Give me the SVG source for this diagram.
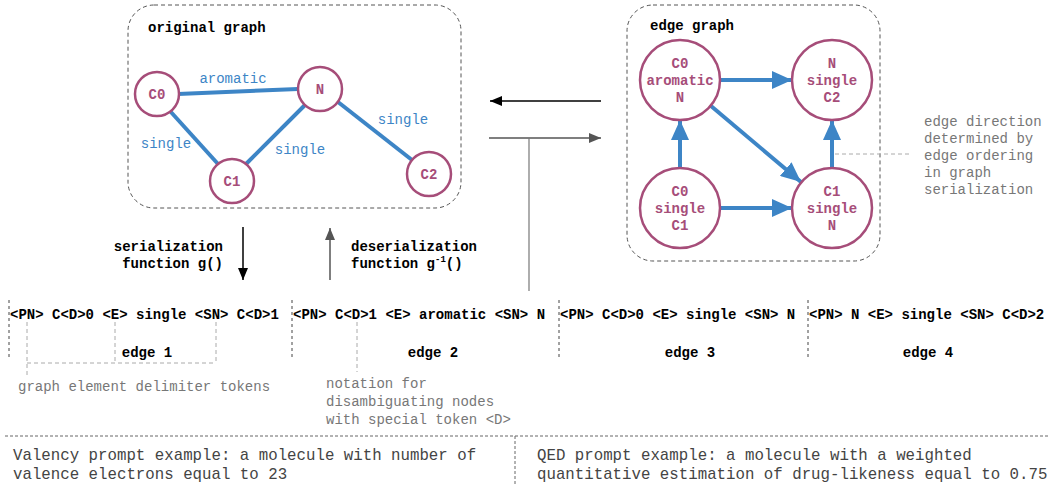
<svg xmlns="http://www.w3.org/2000/svg" width="1052" height="484" viewBox="0 0 1052 484">
<style>
text{font-family:"Liberation Mono","Courier New",monospace}
.b{font-weight:bold;font-size:14px;fill:#000}
.nl{font-weight:bold;font-size:14px;fill:#a64d79;text-anchor:middle}
.el{font-size:14px;fill:#3d85c6;text-anchor:middle}
.g{font-size:14px;fill:#777}
.p{font-size:15.75px;fill:#444}
.box{fill:none;stroke:#555;stroke-width:1;stroke-dasharray:4 3}
.node{fill:#fff;stroke:#a64d79;stroke-width:2.5}
.bond{stroke:#3d85c6;stroke-width:4;fill:none}
.arr{stroke:#3d85c6;stroke-width:4;fill:none;marker-end:url(#bh)}
.sep{stroke:#444;stroke-width:1;stroke-dasharray:3 3}
.lg{stroke:#aaa;stroke-width:1;stroke-dasharray:4 3;fill:none}
</style>
<defs>
<marker id="bh" markerUnits="userSpaceOnUse" viewBox="0 0 20 18" refX="20" refY="9" markerWidth="20" markerHeight="18" orient="auto"><path d="M0,0 L20,9 L0,18 Z" fill="#3d85c6"/></marker>
<marker id="kh" markerUnits="userSpaceOnUse" viewBox="0 0 12 10" refX="12" refY="5" markerWidth="12" markerHeight="10" orient="auto"><path d="M0,0 L12,5 L0,10 Z" fill="#000"/></marker>
<marker id="gh" markerUnits="userSpaceOnUse" viewBox="0 0 12 10" refX="12" refY="5" markerWidth="12" markerHeight="10" orient="auto"><path d="M0,0 L12,5 L0,10 Z" fill="#555"/></marker>
</defs>

<g id="original-graph">
<rect class="box" x="128" y="5" width="333" height="203" rx="26"/>
<text class="b" x="148" y="32">original graph</text>
</g>
<g id="edge-graph">
<rect class="box" x="627" y="5" width="253" height="256" rx="26"/>
<text class="b" x="650" y="30">edge graph</text>
</g>

<g id="connectors">
<line class="bond" x1="178" y1="94" x2="298" y2="89"/>
<line class="bond" x1="170" y1="111" x2="218" y2="164"/>
<line class="bond" x1="246" y1="164" x2="305" y2="105"/>
<line class="bond" x1="338" y1="102" x2="412" y2="160"/>
<text class="el" x="233" y="83">aromatic</text>
<text class="el" x="166" y="148">single</text>
<text class="el" x="300" y="154">single</text>
<text class="el" x="403" y="124">single</text>

<line class="arr" x1="720" y1="80" x2="792" y2="80"/>
<line class="arr" x1="680" y1="168" x2="680" y2="120"/>
<line class="arr" x1="711" y1="106" x2="801" y2="182"/>
<line class="arr" x1="720" y1="208" x2="792" y2="208"/>
<line class="arr" x1="832" y1="168" x2="832" y2="120"/>

<line x1="601" y1="101" x2="490" y2="101" stroke="#000" stroke-width="1.5" marker-end="url(#kh)"/>
<line x1="489" y1="138" x2="601" y2="138" stroke="#555" stroke-width="1.5" marker-end="url(#gh)"/>
<line x1="529" y1="138" x2="529" y2="291" stroke="#777" stroke-width="1.2"/>

<line x1="243" y1="227" x2="243" y2="280" stroke="#000" stroke-width="1.5" marker-end="url(#kh)"/>
<line x1="330" y1="280" x2="330" y2="228" stroke="#555" stroke-width="1.5" marker-end="url(#gh)"/>

<line class="lg" x1="835" y1="154" x2="912" y2="154"/>
</g>

<g id="node-C0"><circle class="node" cx="157" cy="94" r="22"/><text class="nl" x="157" y="99">C0</text></g>
<g id="node-N"><circle class="node" cx="320" cy="89" r="22"/><text class="nl" x="320" y="94">N</text></g>
<g id="node-C1"><circle class="node" cx="232" cy="181" r="22"/><text class="nl" x="232" y="186">C1</text></g>
<g id="node-C2"><circle class="node" cx="429" cy="174" r="22"/><text class="nl" x="429" y="179">C2</text></g>

<g id="enode-C0-aromatic-N"><circle class="node" cx="680" cy="80" r="40"/><text class="nl" x="680" y="68">C0</text><text class="nl" x="680" y="85">aromatic</text><text class="nl" x="680" y="102">N</text></g>
<g id="enode-N-single-C2"><circle class="node" cx="832" cy="80" r="40"/><text class="nl" x="832" y="68">N</text><text class="nl" x="832" y="85">single</text><text class="nl" x="832" y="102">C2</text></g>
<g id="enode-C0-single-C1"><circle class="node" cx="680" cy="208" r="40"/><text class="nl" x="680" y="196">C0</text><text class="nl" x="680" y="213">single</text><text class="nl" x="680" y="230">C1</text></g>
<g id="enode-C1-single-N"><circle class="node" cx="832" cy="208" r="40"/><text class="nl" x="832" y="196">C1</text><text class="nl" x="832" y="213">single</text><text class="nl" x="832" y="230">N</text></g>

<g id="edge-direction-note">
<text class="g" x="924" y="126">edge direction</text>
<text class="g" x="924" y="143">determined by</text>
<text class="g" x="924" y="160">edge ordering</text>
<text class="g" x="924" y="177">in graph</text>
<text class="g" x="924" y="194">serialization</text>
</g>

<g id="serialization-labels">
<text class="b" x="223" y="251" text-anchor="end">serialization</text>
<text class="b" x="223" y="268" text-anchor="end">function g()</text>
<text class="b" x="351" y="251">deserialization</text>
<text class="b" x="351" y="268">function g<tspan font-size="9" dy="-6">-1</tspan><tspan dy="6">()</tspan></text>
</g>

<g id="token-sequence">
<line class="sep" x1="9" y1="300" x2="9" y2="360"/>
<line class="sep" x1="292" y1="300" x2="292" y2="360"/>
<line class="sep" x1="559" y1="300" x2="559" y2="360"/>
<line class="sep" x1="808" y1="300" x2="808" y2="360"/>
<text class="b" x="10" y="319">&lt;PN&gt; C&lt;D&gt;0 &lt;E&gt; single &lt;SN&gt; C&lt;D&gt;1</text>
<text class="b" x="293" y="319">&lt;PN&gt; C&lt;D&gt;1 &lt;E&gt; aromatic &lt;SN&gt; N</text>
<text class="b" x="560" y="319">&lt;PN&gt; C&lt;D&gt;0 &lt;E&gt; single &lt;SN&gt; N</text>
<text class="b" x="809" y="319">&lt;PN&gt; N &lt;E&gt; single &lt;SN&gt; C&lt;D&gt;2</text>
<text class="b" x="147" y="357" text-anchor="middle">edge 1</text>
<text class="b" x="433" y="357" text-anchor="middle">edge 2</text>
<text class="b" x="690" y="357" text-anchor="middle">edge 3</text>
<text class="b" x="928" y="357" text-anchor="middle">edge 4</text>
</g>

<g id="delimiter-note">
<path class="lg" d="M27,322 V376 M115,322 V363 M216,322 V363 M27,363 H216"/>
<text class="g" x="18" y="391">graph element delimiter tokens</text>
</g>
<g id="disambiguation-note">
<line class="lg" x1="357" y1="322" x2="357" y2="372"/>
<text class="g" x="326" y="388">notation for</text>
<text class="g" x="326" y="406">disambiguating nodes</text>
<text class="g" x="326" y="424">with special token &lt;D&gt;</text>
</g>

<g id="prompt-examples">
<line x1="5" y1="436" x2="1050" y2="436" stroke="#666" stroke-width="1" stroke-dasharray="3 2"/>
<line x1="515" y1="436" x2="515" y2="484" stroke="#666" stroke-width="1" stroke-dasharray="3 2"/>
<text class="p" x="13" y="460">Valency prompt example: a molecule with number of</text>
<text class="p" x="13" y="479">valence electrons equal to 23</text>
<text class="p" x="537" y="460">QED prompt example: a molecule with a weighted</text>
<text class="p" x="537" y="479">quantitative estimation of drug-likeness equal to 0.75</text>
</g>
</svg>
